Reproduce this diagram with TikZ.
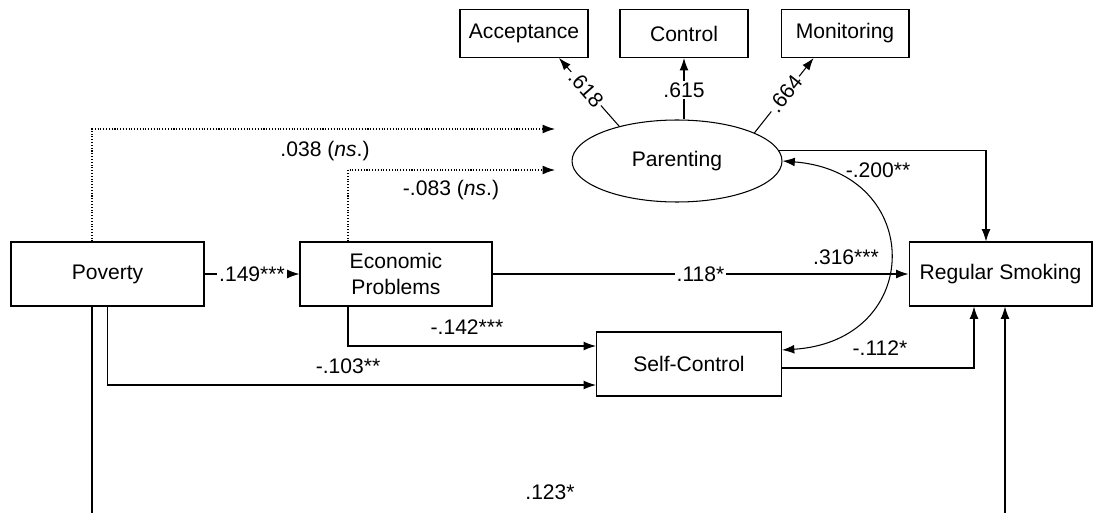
\documentclass[tikz,border=0pt]{standalone}
\usepackage{fontspec}
\setmainfont{Liberation Sans}
\usetikzlibrary{arrows.meta,calc,shapes.geometric}

\begin{document}
\begin{tikzpicture}[x=0.02cm, y=-0.02cm,
    font=\fontsize{12}{14.5}\selectfont, line width=0.6pt,
    >={Latex[length=7pt,width=5pt]},
    box/.style={draw, rectangle, minimum height=1.28cm, inner sep=0pt, align=center},
    item/.style={draw, rectangle, minimum width=2.56cm, minimum height=0.96cm, inner sep=0pt},
    latent/.style={draw, ellipse, minimum width=4.2cm, minimum height=1.64cm, inner sep=0pt},
    coef/.style={inner sep=1pt},
    oncoef/.style={fill=white, inner sep=1pt}]
    \useasboundingbox (0,0) rectangle (1094,513);
    \clip (0,0) rectangle (1094,513);
    % indicators and latent factor
    \node[item] (acc) at (524,33.5) {Acceptance};
    \node[item] (ctl) at (684,33.5) {Control};
    \node[item] (mon) at (845,33.5) {Monitoring};
    \node[latent] (par) at (677,161) {Parenting};
    % observed variables
    \node[box, minimum width=3.86cm] (pov) at (107.5,274) {Poverty};
    \node[box, minimum width=3.84cm] (eco) at (396,274) {Economic\\Problems};
    \node[box, minimum width=3.66cm] (rsm) at (1000.5,274) {Regular Smoking};
    \node[box, minimum width=3.70cm] (sc) at (689,364) {Self-Control};
    \coordinate (pin1) at (555,129);
    \coordinate (pin2) at (555,170);
    % loadings
    \draw[->] (par.149) -- node[oncoef, sloped, pos=0.55] (l618) {.618} (acc.-35);
    \draw[->] (par.north -| ctl.south) -- node[oncoef, pos=0.48] (l615) {.615} (ctl.south);
    \draw[->] (par.20) -- node[oncoef, sloped, pos=0.52] (l664) {.664} (mon.-142);
    % non-significant paths
    \draw[densely dotted, ->] ($(pov.north)+(-15.5,0)$) |- (pin1);
    \draw[densely dotted, ->] ($(eco.north)+(-48,0)$) |- (pin2);
    % structural paths
    \draw[->] (pov) -- node[oncoef] (l149) {.149***} (eco);
    \draw[->] (eco) -- node[oncoef] (l118) {.118*} (rsm);
    \draw[->] ($(eco.south)+(-48,0)$) |- ($(sc.west)+(0,-18)$);
    \draw[->] (pov.south) |- ($(sc.west)+(0,21)$);
    \draw[->] (par.6) -| ($(rsm.north)+(-14.5,0)$);
    \draw[->] ($(sc.east)+(0,4)$) -| ($(rsm.south)+(-26.5,0)$);
    \draw[->] ($(pov.south)+(-15.5,0)$) -- ++(0,250) -| ($(rsm.south)+(4.5,0)$);
    \draw[<->] (par.east) .. controls (925,172) and (925,341) .. ($(sc.east)+(0,-14)$);
    % coefficients
    \node[coef] (l038) at (325,151) {.038 (\textit{ns}.)};
    \node[coef] (l083) at (451,190) {-.083 (\textit{ns}.)};
    \node[coef] (l142) at (467,327) {-.142***};
    \node[coef] (l103) at (348,366) {-.103**};
    \node[coef] (l200) at (878,170) {-.200**};
    \node[coef] (l316) at (846,257) {.316***};
    \node[coef] (l112) at (880,348) {-.112*};
    \node[coef] (l123) at (550,492) {.123*};
\end{tikzpicture}
\end{document}
